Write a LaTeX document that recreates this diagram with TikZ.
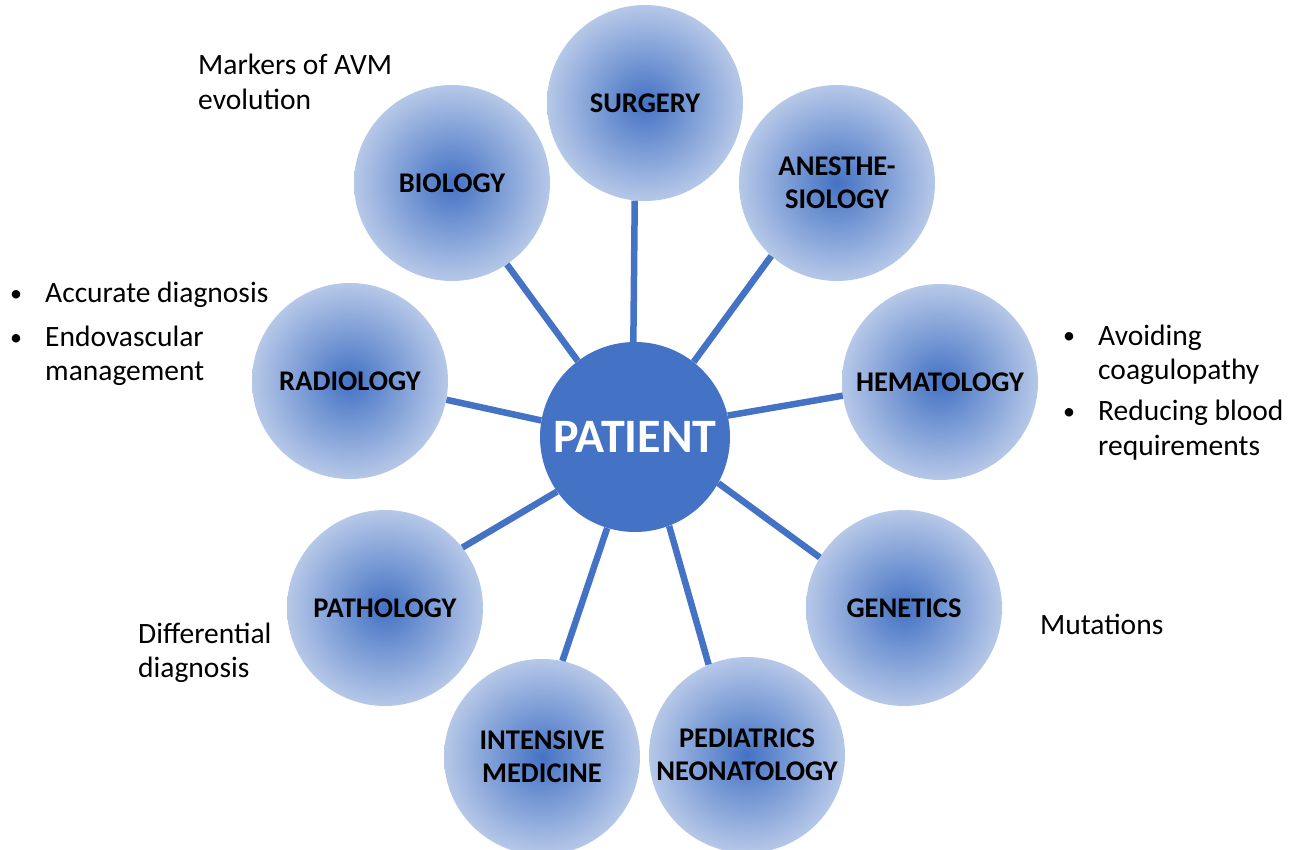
\documentclass[tikz,border=0pt]{standalone}
\usepackage{fontspec}
\setmainfont{Carlito}
\definecolor{hubblue}{RGB}{68,114,196}
\definecolor{rimblue}{RGB}{182,200,232}
\begin{document}
\begin{tikzpicture}[x=1pt,y=-1pt,
  spoke/.style={circle, minimum size=196pt, inner sep=0pt, align=center,
    inner color=hubblue, outer color=rimblue,
    font=\fontsize{28.5}{33}\selectfont\bfseries},
  hub/.style={circle, minimum size=190pt, inner sep=0pt, fill=hubblue,
    text=white, font=\fontsize{48}{54}\selectfont\bfseries},
  link/.style={draw=hubblue, line width=6.5pt},
  note/.style={anchor=base west, inner sep=0pt, font=\fontsize{29.5}{34}\selectfont},
  dot/.style={anchor=base west, inner sep=0pt, font=\fontsize{24}{34}\selectfont}]
\useasboundingbox (0,0) rectangle (1291,850);

% central node
\node[hub] (patient) at (635,437) {PATIENT};

% specialty circles
\node[spoke] (surgery) at (645,103) {SURGERY};
\node[spoke] (anest)   at (837,183) {ANESTHE-\\SIOLOGY};
\node[spoke] (hema)    at (940,382) {HEMATOLOGY};
\node[spoke] (gen)     at (904,608) {GENETICS};
\node[spoke] (ped)     at (747,755) {PEDIATRICS\\NEONATOLOGY};
\node[spoke] (icu)     at (542,757) {INTENSIVE\\MEDICINE};
\node[spoke] (path)    at (385,608) {PATHOLOGY};
\node[spoke] (rad)     at (350,381) {RADIOLOGY};
\node[spoke] (bio)     at (452,183) {BIOLOGY};

% spokes from the patient to each specialty
\draw[link] (patient.91)   -- (surgery.264);
\draw[link] (patient.52)   -- (anest.228);
\draw[link] (patient.13)   -- (hema.188);
\draw[link] (patient.-29)  -- (gen.149);
\draw[link] (patient.-69)  -- (ped.113);
\draw[link] (patient.-107) -- (icu.78);
\draw[link] (patient.-145) -- (path.38);
\draw[link] (patient.170)  -- (rad.-11);
\draw[link] (patient.127)  -- (bio.-56);

% notes: biology
\node[note] (bio-a) at (198,75)  {Markers of AVM};
\node[note] (bio-b) at (198,110) {evolution};

% notes: radiology
\node[dot]  (rad-d1) at (10,302)  {•};
\node[note] (rad-a)  at (45,303) {Accurate diagnosis};
\node[dot]  (rad-d2) at (10,346)  {•};
\node[note] (rad-b)  at (45,347) {Endovascular};
\node[note] (rad-c)  at (45,381) {management};

% notes: hematology
\node[dot]  (hem-d1) at (1063,344)  {•};
\node[note] (hem-a)  at (1098,345)  {Avoiding};
\node[note] (hem-b)  at (1098,380)  {coagulopathy};
\node[dot]  (hem-d2) at (1063,419)  {•};
\node[note] (hem-c)  at (1098,420)  {Reducing blood};
\node[note] (hem-d)  at (1098,455)  {requirements};

% notes: genetics
\node[note] (gen-a) at (1040,634) {Mutations};

% notes: pathology
\node[note] (path-a) at (138,643) {Differential};
\node[note] (path-b) at (138,677) {diagnosis};
\end{tikzpicture}
\end{document}
